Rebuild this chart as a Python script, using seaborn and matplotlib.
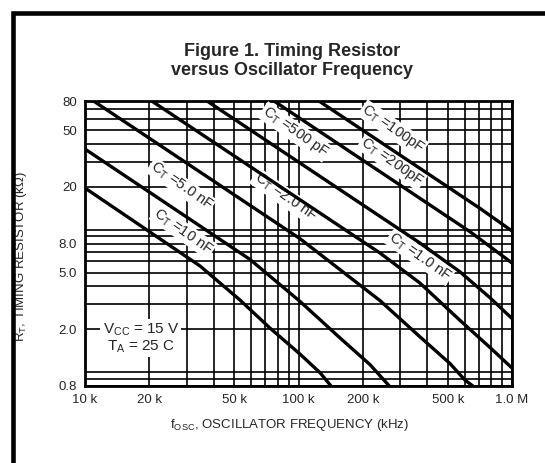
import numpy as np
import pandas as pd
import matplotlib
matplotlib.use("Agg")
import matplotlib.pyplot as plt
import seaborn as sns
from matplotlib.patches import Rectangle
from matplotlib.ticker import FixedLocator, FixedFormatter, LogLocator, NullFormatter

# Curves (f in kHz, R in kOhm)
f_10nf = [10.0, 34.6, 53.2, 73.5, 101.6, 126.3, 148.2]
r_10nf = [19.6, 5.56, 3.21, 2.04, 1.34, 0.99, 0.74]
f_5nf = [10.0, 59.3, 101.6, 156.4, 216.2, 268.3, 298.8]
r_5nf = [36.8, 6.18, 3.14, 1.74, 1.13, 0.79, 0.63]
f_2nf = [10.0, 101.6, 240.8, 370.7, 512.3, 602.4, 747.4]
r_2nf = [87.7, 8.65, 3.18, 1.77, 1.15, 0.88, 0.69]
f_1nf = [10.0, 240.8, 370.7, 570.7, 788.8, 1000.0, 1214.0]
r_1nf = [164.0, 6.86, 4.22, 2.31, 1.49, 1.07, 0.79]
f_500p = [10.0, 370.7, 570.7, 788.8, 1000.0, 1214.0]
r_500p = [298.0, 8.06, 5.06, 3.33, 2.38, 1.81]
f_200p = [10.0, 635.8, 1000.0, 1214.0]
r_200p = [613.0, 9.68, 5.84, 4.81]
f_100p = [10.0, 708.4, 1000.0]
r_100p = [994.0, 14.1, 9.79]

curve_names = ['10 nF', '5.0 nF', '2.0 nF', '1.0 nF', '500 pF', '200 pF', '100 pF']
curve_f = [f_10nf, f_5nf, f_2nf, f_1nf, f_500p, f_200p, f_100p]
curve_r = [r_10nf, r_5nf, r_2nf, r_1nf, r_500p, r_200p, r_100p]

# In-plot curve labels
label_text = ['$C_T$ =10 nF', '$C_T$ =5.0 nF', '$C_T$ =2.0 nF', '$C_T$ =1.0 nF',
              '$C_T$ =500 pF', '$C_T$ =200pF', '$C_T$ =100pF']
label_f = [28.8, 28.2, 86.5, 370.7, 96.3, 274.0, 277.0]
label_r = [9.7, 20.3, 17.0, 6.45, 48.5, 30.0, 51.0]

x_ticks = [10, 20, 50, 100, 200, 500, 1000]
x_ticklabels = ['10 k', '20 k', '50 k', '100 k', '200 k', '500 k', '1.0 M']
y_ticks = [0.8, 2, 5, 8, 20, 50, 80]
y_ticklabels = ['0.8', '2.0', '5.0', '8.0', '20', '50', '80']

rows = []
for name, fs, rs in zip(curve_names, curve_f, curve_r):
    for f, r in zip(fs, rs):
        rows.append({'curve': name, 'freq': f, 'res': r})
df = pd.DataFrame(rows)

sns.set_style('white')
plt.rcParams['font.family'] = ['Liberation Sans', 'DejaVu Sans']
plt.rcParams['mathtext.default'] = 'regular'

W, H = 545, 463
fig = plt.figure(figsize=(W / 100, H / 100), dpi=100)
ax = fig.add_axes([85 / W, 1 - 386 / H, (512 - 85) / W, (386 - 101) / H])

sns.lineplot(data=df, x='freq', y='res', hue='curve', units='curve', estimator=None,
             sort=False, palette=['black'] * len(curve_names), linewidth=2.4,
             legend=False, ax=ax)
for ln in ax.lines:
    ln.set_zorder(5)
    ln.set_solid_joinstyle('round')

ax.set_xscale('log')
ax.set_yscale('log')
ax.set_xlim(10, 1000)
ax.set_ylim(0.8, 80)

ax.xaxis.set_major_locator(FixedLocator(x_ticks))
ax.xaxis.set_major_formatter(FixedFormatter(x_ticklabels))
ax.yaxis.set_major_locator(FixedLocator(y_ticks))
ax.yaxis.set_major_formatter(FixedFormatter(y_ticklabels))
ax.xaxis.set_minor_locator(LogLocator(base=10, subs=np.arange(1, 10)))
ax.yaxis.set_minor_locator(LogLocator(base=10, subs=np.arange(1, 10)))
ax.xaxis.set_minor_formatter(NullFormatter())
ax.yaxis.set_minor_formatter(NullFormatter())
ax.tick_params(axis='both', which='major', labelsize=9.5, length=4, width=1.2,
               direction='out', color='black', pad=2)
ax.tick_params(axis='both', which='minor', length=0)

ax.grid(True, which='both', color='black', linewidth=1.2)
ax.set_axisbelow(True)
for sp in ax.spines.values():
    sp.set_color('black')
    sp.set_linewidth(2.0)

ax.set_xlabel('$f_{OSC}$, OSCILLATOR FREQUENCY (kHz)', fontsize=9.5)
ax.set_ylabel('$R_T$, TIMING RESISTOR (k\u03a9)', fontsize=9.5)
ax.xaxis.set_label_coords(0.478, -0.11)
ax.yaxis.set_label_coords(-0.13, 0.455)

for txt, f, r in zip(label_text, label_f, label_r):
    ax.text(f, r, txt, fontsize=10.5, rotation=-35, rotation_mode='anchor',
            ha='center', va='center', zorder=4,
            bbox=dict(facecolor='white', edgecolor='none', pad=0.8))

ax.text(0.131, 0.168, '$V_{CC}$ = 15 V\n$T_A$ = 25 C', transform=ax.transAxes,
        fontsize=11, ha='center', va='center', zorder=4, linespacing=1.05,
        bbox=dict(facecolor='white', edgecolor='none', pad=1.5))

fig.text(292 / W, 1 - 61 / H, 'Figure 1. Timing Resistor\nversus Oscillator Frequency',
         ha='center', va='center', fontsize=13, fontweight='bold', linespacing=1.15)

# thick outer frame of the datasheet panel (cut off at right and bottom)
fig.add_artist(Rectangle((12.5 / W, -0.2), 1.2, 1.2 - 12.5 / H,
                         transform=fig.transFigure, fill=False,
                         edgecolor='black', linewidth=3.3))

fig.savefig('out.png', dpi=100)
